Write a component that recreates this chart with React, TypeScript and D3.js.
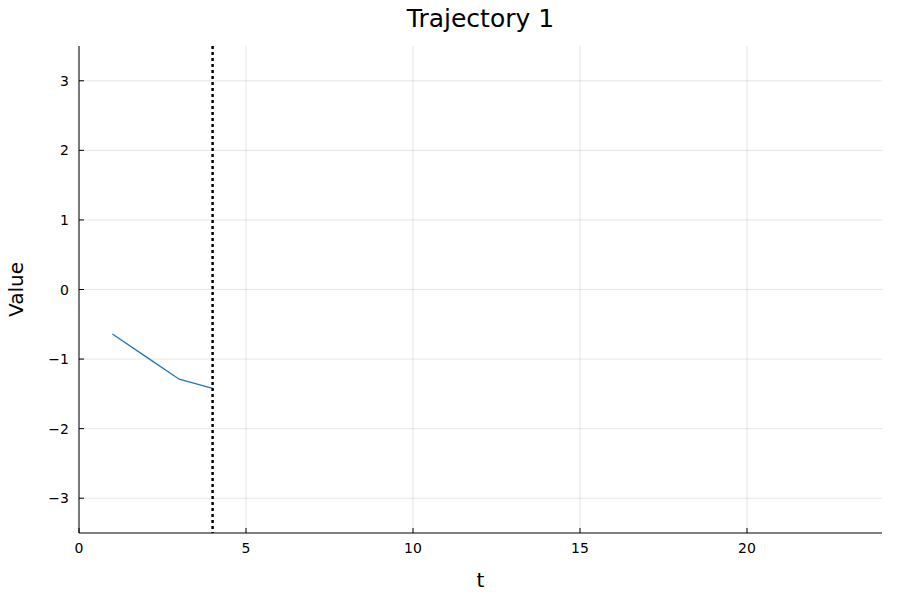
import React from 'react';
import * as d3 from 'd3';

const tValues = [1, 2, 3, 4];
const seriesValues = [-0.64, -0.965, -1.29, -1.42];
const xTicks = [0, 5, 10, 15, 20];
const yTicks = [-3, -2, -1, 0, 1, 2, 3];
const markerT = 4;

const W = 900;
const H = 600;
const left = 79;
const right = 882;
const top = 46;
const bottom = 533;

const App: React.FC = () => {
  const x = d3.scaleLinear().domain([0, 24]).range([left, left + 24 * (246 - 79) / 5]);
  const y = d3.scaleLinear().domain([-3.5, 3.5]).range([bottom, top]);
  const line = d3.line<number>().x((d, i) => x(tValues[i])).y(d => y(d));
  const font = 'DejaVu Sans, sans-serif';

  return (
    <svg width={W} height={H} style={{ position: 'absolute', left: 0, top: 0 }} fontFamily={font}>
      <rect width={W} height={H} fill="#fff" />
      {xTicks.map(t => (
        <line key={'gx' + t} x1={x(t)} x2={x(t)} y1={top} y2={bottom} stroke="#000" strokeOpacity={0.1} />
      ))}
      {yTicks.map(t => (
        <line key={'gy' + t} x1={left} x2={right} y1={y(t)} y2={y(t)} stroke="#000" strokeOpacity={0.1} />
      ))}
      <line x1={left} x2={right} y1={bottom} y2={bottom} stroke="#000" />
      <line x1={left} x2={left} y1={top} y2={bottom} stroke="#000" />
      {xTicks.map(t => (
        <g key={'tx' + t}>
          <line x1={x(t)} x2={x(t)} y1={bottom} y2={bottom - 5} stroke="#000" />
          <text x={x(t)} y={bottom + 20} textAnchor="middle" fontSize={14}>{t}</text>
        </g>
      ))}
      {yTicks.map(t => (
        <g key={'ty' + t}>
          <line x1={left} x2={left + 5} y1={y(t)} y2={y(t)} stroke="#000" />
          <text x={left - 10} y={y(t) + 5} textAnchor="end" fontSize={14}>{t < 0 ? '\u2212' + Math.abs(t) : t}</text>
        </g>
      ))}
      <path d={line(seriesValues) || ''} fill="none" stroke="#1f77b4" strokeWidth={1.3} />
      <line x1={x(markerT)} x2={x(markerT)} y1={top} y2={bottom} stroke="#000" strokeWidth={2.5} strokeDasharray="3,3" />
      <text x={(left + right) / 2} y={27} textAnchor="middle" fontSize={25}>Trajectory 1</text>
      <text x={(left + right) / 2} y={587} textAnchor="middle" fontSize={20}>t</text>
      <text transform={`translate(23,${(top + bottom) / 2}) rotate(-90)`} textAnchor="middle" fontSize={20}>Value</text>
    </svg>
  );
};

export default App;
